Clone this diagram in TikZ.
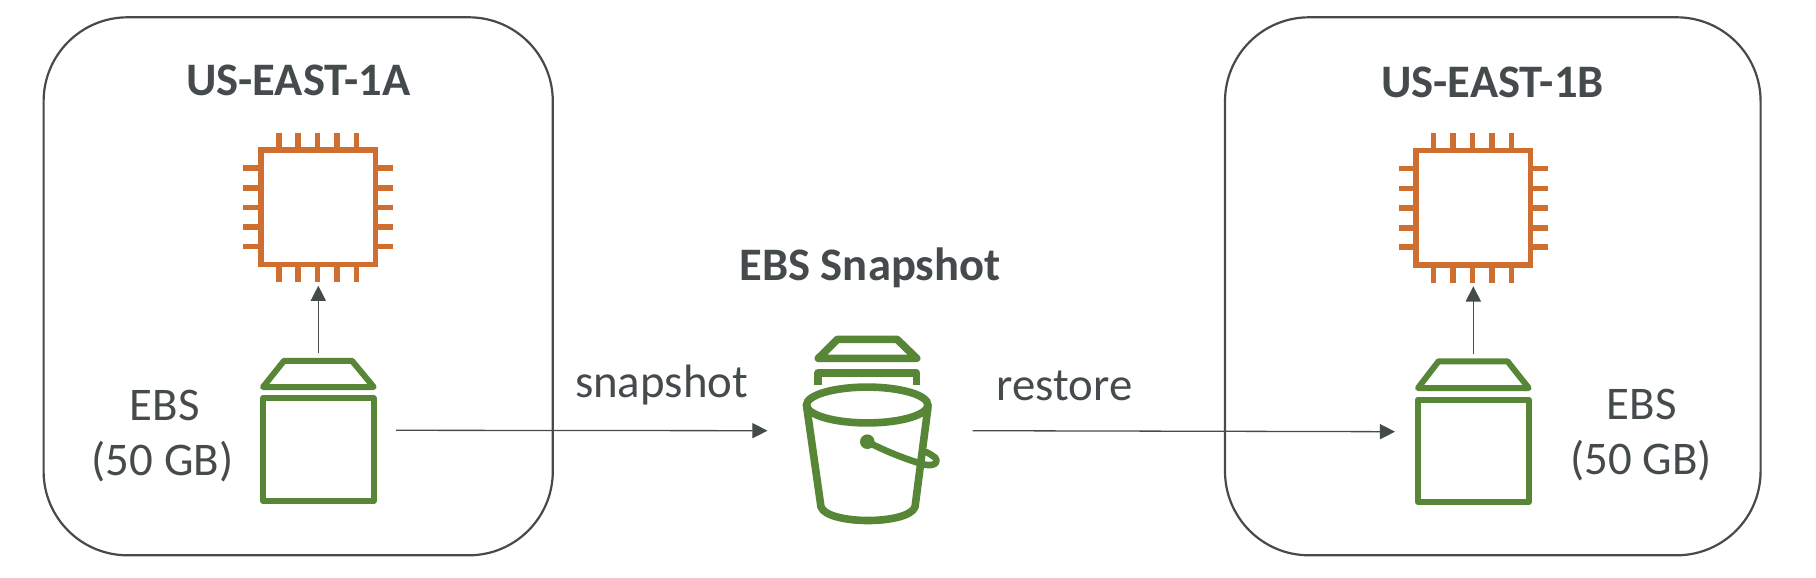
\documentclass[tikz,border=0pt]{standalone}
\usepackage{fontspec}
\setmainfont{Carlito}
\usetikzlibrary{arrows.meta,shapes.geometric}
\definecolor{ink}{HTML}{454A4C}
\definecolor{chipc}{HTML}{CE6F2F}
\definecolor{ebsc}{HTML}{568636}
\tikzset{
  zone/.style={draw=ink,line width=1.1pt,rounded corners=42pt,inner sep=0pt,minimum height=269pt},
  chipbox/.style={draw=chipc,line width=2.8pt,inner sep=0pt,minimum width=57.2pt,minimum height=57.2pt},
  pin/.style={draw=chipc,line width=2.8pt},
  volbox/.style={draw=ebsc,line width=3pt,line join=round,inner sep=0pt,minimum width=55.3pt,minimum height=51.3pt},
  greenline/.style={draw=ebsc,line width=3pt,line join=round,line cap=round},
  bucketline/.style={draw=ebsc,line width=3.8pt,line join=round,line cap=round},
  conn/.style={draw=ink,line width=0.65pt,-{Triangle[length=7.6pt,width=7.6pt]}},
  title/.style={text=ink,font=\fontsize{23.3}{27}\selectfont\bfseries,inner sep=0pt,anchor=base},
  label/.style={text=ink,font=\fontsize{23.4}{27}\selectfont,inner sep=0pt,anchor=base},
}
\begin{document}
\begin{tikzpicture}[x=0.5pt,y=-0.5pt]
\useasboundingbox (0,0) rectangle (1816,578);
\fill[white] (0,0) rectangle (1816,578);
% zones
\node[zone,minimum width=254.6pt] (zoneA) at (298.2,286.3) {};
\node[zone,minimum width=267.8pt] (zoneB) at (1492.8,286.3) {};
% titles
\node[title] (titleA) at (298.5,95.7) {US-EAST-1A};
\node[title] (titleB) at (1492.5,97.7) {US-EAST-1B};
\node[title] (titleS) at (870,280.7) {EBS Snapshot};
% chip A
\node[chipbox] (chipA) at (318.3,207.3) {};
\foreach \x in {278.7,298,317.3,337,356.3}{
  \draw[pin] (\x,132.7) -- (\x,147.3);
  \draw[pin] (\x,267.3) -- (\x,282);
}
\foreach \y in {168,187.7,207.3,227,246.3}{
  \draw[pin] (243.3,\y) -- (258.3,\y);
  \draw[pin] (378.3,\y) -- (393.3,\y);
}
% chip B
\node[chipbox] (chipB) at (1473.3,207.8) {};
\foreach \x in {1433.5,1453,1472.5,1492,1511.5}{
  \draw[pin] (\x,133) -- (\x,148);
  \draw[pin] (\x,268) -- (\x,282.5);
}
\foreach \y in {168.5,188.3,208,227.7,247}{
  \draw[pin] (1398.5,\y) -- (1413.5,\y);
  \draw[pin] (1533,\y) -- (1548,\y);
}
% EBS A
\node[volbox] (ebsA) at (318.3,449.7) {};
\draw[greenline] (263,387) -- (284,360.8) -- (352,360.8) -- (373.7,387) -- cycle;
% EBS B
\node[volbox] (ebsB) at (1473.3,450.8) {};
\draw[greenline] (1418,388) -- (1438.5,361.3) -- (1507.5,361.3) -- (1528.7,388) -- cycle;
% Snapshot bucket
\draw[bucketline] (818.3,358.3) -- (837.5,339.3) -- (897,339.3) -- (916.7,358.3) -- cycle;
\draw[bucketline,line cap=butt] (818,385) -- (818,373) -- (916.5,373) -- (916.5,385);
\node[draw=ebsc,line width=3.8pt,ellipse,inner sep=0pt,minimum width=60.7pt,minimum height=17.9pt] (bucket) at (867.2,405) {};
\draw[bucketline] (806.7,407) -- (821,507) .. controls (828,525) and (908,525) .. (915,507) -- (928,407);
\fill[ebsc] (867.3,441.7) circle (3.65pt);
\draw[draw=ebsc,line width=3.3pt,line join=round,line cap=round] (867.3,441.7) .. controls (885,451) and (905,459) .. (924,464.5)
  .. controls (936,467) and (939,461) .. (935,457.5) .. controls (932,455) and (930,454) .. (926,452);
% texts
\node[label] (ebsLabelA) at (164.8,420) {EBS};
\node[label] (sizeLabelA) at (162.5,475) {(50 GB)};
\node[label] (ebsLabelB) at (1641.8,419) {EBS};
\node[label] (sizeLabelB) at (1641,474) {(50 GB)};
\node[label] (snapshotText) at (661.5,397.5) {snapshot};
\node[label] (restoreText) at (1064.5,400) {restore};
% connectors
\draw[conn] ([shift={(0,-42.7)}]ebsA.north) -- ([shift={(0,18.4)}]chipA.south);
\draw[conn] ([shift={(0,-42.8)}]ebsB.north) -- ([shift={(0,18.5)}]chipB.south);
\draw[conn] ([shift={(19.4,-19.4)}]ebsA.east) -- ([xshift=-17.6pt,yshift=-12.85pt]bucket.west);
\draw[conn] ([xshift=20.5pt,yshift=-12.85pt]bucket.east) -- ([shift={(-20,-19.1)}]ebsB.west);
\end{tikzpicture}
\end{document}
